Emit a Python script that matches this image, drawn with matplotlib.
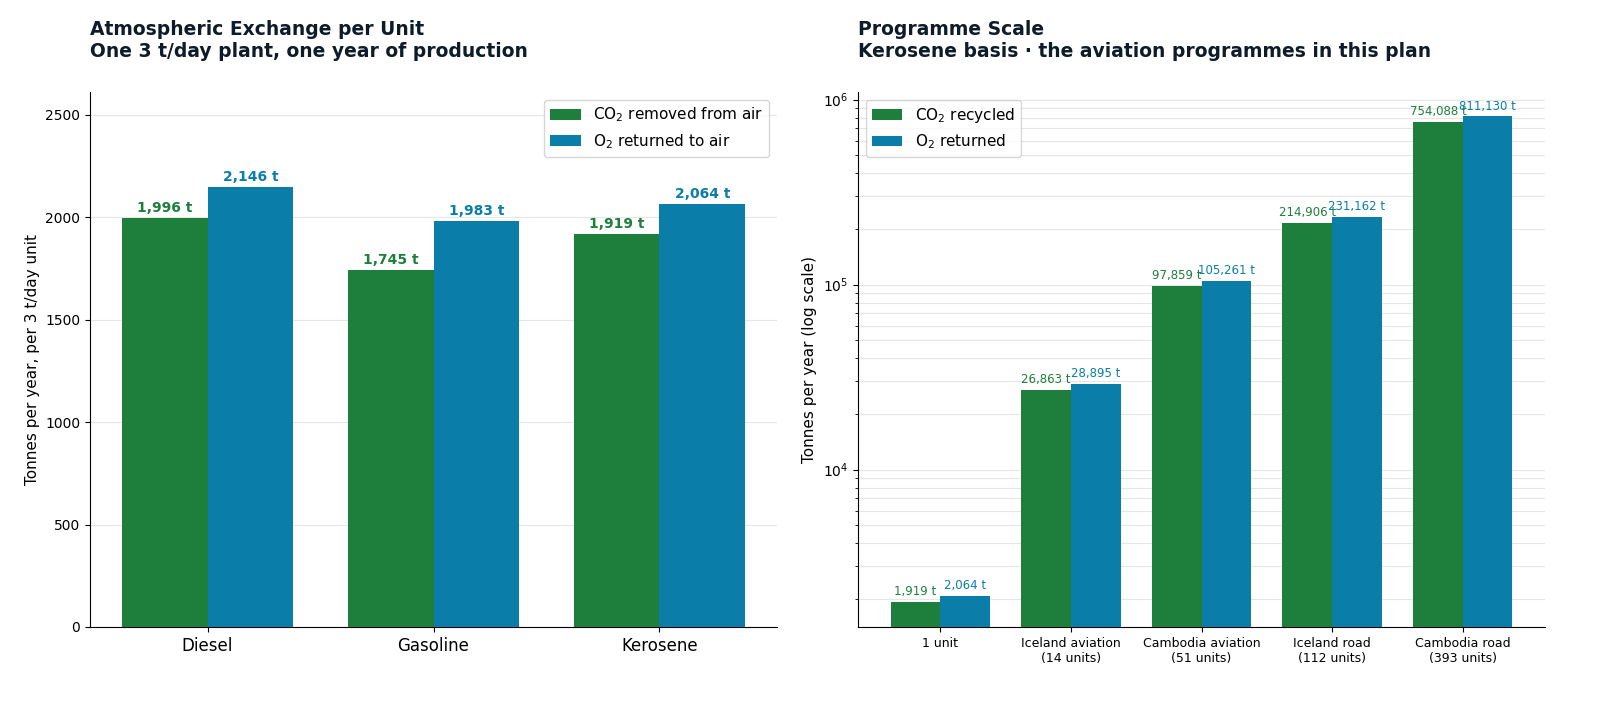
import matplotlib
matplotlib.use("Agg")
import matplotlib.pyplot as plt
import numpy as np

fuels = ["Diesel", "Gasoline", "Kerosene"]
co2_unit = [1996, 1745, 1919]
o2_unit = [2146, 1983, 2064]

progs = ["1 unit", "Iceland aviation\n(14 units)", "Cambodia aviation\n(51 units)",
         "Iceland road\n(112 units)", "Cambodia road\n(393 units)"]
co2_prog = [1919, 26863, 97859, 214906, 754088]
o2_prog = [2064, 28895, 105261, 231162, 811130]

GREEN = "#1e7f3c"
BLUE = "#0a7ea8"
TITLE = "#0d1b2a"

fig = plt.figure(figsize=(16, 7.04), dpi=100)
ax1 = fig.add_axes([90/1600, 1-627/704, 687/1600, 535/704])
ax2 = fig.add_axes([858/1600, 1-627/704, 687/1600, 535/704])

w = 0.38
x = np.arange(len(fuels))
ax1.bar(x - w/2, co2_unit, w, color=GREEN, label="CO$_2$ removed from air", zorder=3)
ax1.bar(x + w/2, o2_unit, w, color=BLUE, label="O$_2$ returned to air", zorder=3)
for xi, v in zip(x, co2_unit):
    ax1.text(xi - w/2, v + 15, f"{v:,} t", ha="center", va="bottom", color=GREEN, fontsize=10, fontweight="bold")
for xi, v in zip(x, o2_unit):
    ax1.text(xi + w/2, v + 15, f"{v:,} t", ha="center", va="bottom", color=BLUE, fontsize=10, fontweight="bold")
ax1.set_xticks(x)
ax1.set_xticklabels(fuels, fontsize=12)
ax1.set_xlim(-0.52, 2.52)
ax1.set_ylim(0, 2612)
ax1.set_yticks([0, 500, 1000, 1500, 2000, 2500])
ax1.tick_params(axis="y", labelsize=10)
ax1.set_ylabel("Tonnes per year, per 3 t/day unit", fontsize=11)
ax1.grid(axis="y", color="#e6e6e6", zorder=0)
ax1.legend(loc="upper right", fontsize=11)
ax1.set_title("Atmospheric Exchange per Unit\nOne 3 t/day plant, one year of production",
              loc="left", fontsize=13.5, fontweight="bold", color=TITLE, pad=25)

x2 = np.arange(len(progs))
ax2.bar(x2 - w/2, co2_prog, w, color=GREEN, label="CO$_2$ recycled", zorder=3)
ax2.bar(x2 + w/2, o2_prog, w, color=BLUE, label="O$_2$ returned", zorder=3)
for xi, v in zip(x2, co2_prog):
    ax2.text(xi - w/2, v * 1.05, f"{v:,} t", ha="center", va="bottom", color=GREEN, fontsize=8.5)
for xi, v in zip(x2, o2_prog):
    ax2.text(xi + w/2, v * 1.05, f"{v:,} t", ha="center", va="bottom", color=BLUE, fontsize=8.5)
ax2.set_yscale("log")
ax2.set_ylim(1410, 1.1e6)
ax2.set_xticks(x2)
ax2.set_xticklabels(progs, fontsize=9)
ax2.set_xlim(-0.63, 4.63)
ax2.tick_params(axis="y", labelsize=10)
ax2.set_ylabel("Tonnes per year (log scale)", fontsize=11)
ax2.grid(axis="y", which="both", color="#e6e6e6", zorder=0)
ax2.legend(loc="upper left", fontsize=11)
ax2.set_title("Programme Scale\nKerosene basis · the aviation programmes in this plan",
              loc="left", fontsize=13.5, fontweight="bold", color=TITLE, pad=25)

for ax in (ax1, ax2):
    ax.spines["top"].set_visible(False)
    ax.spines["right"].set_visible(False)

fig.savefig("out.png", dpi=100)
